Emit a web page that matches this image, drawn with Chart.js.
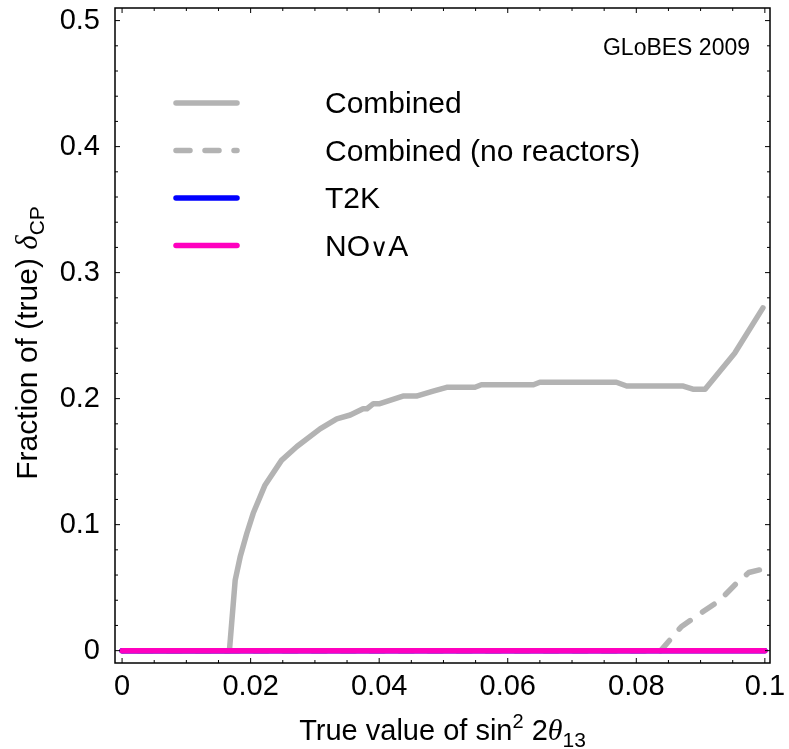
<!DOCTYPE html>
<html>
<head>
<meta charset="utf-8">
<script src="https://cdn.jsdelivr.net/npm/chart.js@4/dist/chart.umd.min.js"></script>
<style>
  body { margin: 0; background: #fff; }
  canvas { display: block; }
</style>
</head>
<body>
<canvas id="fractionChart" width="789" height="749"></canvas>
<script>
const xCombined = [0, 0.0167, 0.0176, 0.0184, 0.0194, 0.0204, 0.0222, 0.0248, 0.0272, 0.0308, 0.0334, 0.0355, 0.0375, 0.0381, 0.0391, 0.0401, 0.0437, 0.0458, 0.0484, 0.0505, 0.0549, 0.0559, 0.0640, 0.0650, 0.0769, 0.0785, 0.0873, 0.0888, 0.0907, 0.0953, 0.0997];
const yCombined = [0, 0, 0.056, 0.075, 0.093, 0.109, 0.131, 0.151, 0.162, 0.176, 0.184, 0.187, 0.192, 0.192, 0.196, 0.196, 0.202, 0.202, 0.206, 0.209, 0.209, 0.211, 0.211, 0.213, 0.213, 0.210, 0.210, 0.2075, 0.2075, 0.236, 0.272];

const xNoReactors = [0, 0.0838, 0.0870, 0.0904, 0.0930, 0.0955, 0.0975, 0.0999];
const yNoReactors = [0, 0, 0.019, 0.031, 0.040, 0.053, 0.062, 0.065];

const xT2K = [0, 0.1];
const yT2K = [0, 0];
const xNOvA = [0, 0.1];
const yNOvA = [0, 0];

const seriesNames = ['Combined', 'Combined (no reactors)', 'T2K', 'NO\u2228A'];

const xTickValues = [0, 0.02, 0.04, 0.06, 0.08, 0.1];
const xTickLabels = ['0', '0.02', '0.04', '0.06', '0.08', '0.1'];
const yTickValues = [0, 0.1, 0.2, 0.3, 0.4, 0.5];
const yTickLabels = ['0', '0.1', '0.2', '0.3', '0.4', '0.5'];

const FONT = "'Liberation Sans', Arial, Helvetica, sans-serif";
const SERIF = "'Liberation Serif', 'Times New Roman', serif";

function toPoints(xs, ys) {
  return xs.map((x, i) => ({ x: x, y: ys[i] }));
}

// draw a line of text made of pieces (sub/superscripts, italics)
function drawRich(ctx, parts, x0, baseline, centered) {
  let total = 0;
  parts.forEach(p => { ctx.font = p.font; total += ctx.measureText(p.text).width; });
  let x = centered ? x0 - total / 2 : x0;
  ctx.textAlign = 'left';
  ctx.textBaseline = 'alphabetic';
  parts.forEach(p => {
    ctx.font = p.font;
    ctx.fillText(p.text, x, baseline + (p.dy || 0));
    x += ctx.measureText(p.text).width;
  });
}

const framePlugin = {
  id: 'frame',
  afterDatasetsDraw(chart) {
    const { ctx, chartArea: a, scales } = chart;
    const xs = scales.x, ys = scales.y;
    ctx.save();
    ctx.strokeStyle = '#000';
    ctx.lineWidth = 1.5;
    ctx.strokeRect(a.left, a.top, a.right - a.left, a.bottom - a.top);

    ctx.lineWidth = 1;
    ctx.beginPath();
    for (let i = 0; i <= 20; i++) {
      const px = xs.getPixelForValue(i * 0.005);
      const len = i % 4 === 0 ? 5 : 3;
      ctx.moveTo(px, a.bottom); ctx.lineTo(px, a.bottom - len);
      ctx.moveTo(px, a.top); ctx.lineTo(px, a.top + len);
    }
    for (let i = 0; i <= 25; i++) {
      const py = ys.getPixelForValue(i * 0.02);
      const len = i % 5 === 0 ? 5 : 3;
      ctx.moveTo(a.left, py); ctx.lineTo(a.left + len, py);
      ctx.moveTo(a.right, py); ctx.lineTo(a.right - len, py);
    }
    ctx.stroke();
    ctx.restore();
  },
  afterDraw(chart) {
    const { ctx, chartArea: a } = chart;
    ctx.save();
    ctx.fillStyle = '#000';

    // x axis title
    drawRich(ctx, [
      { text: 'True value of sin', font: '29px ' + FONT },
      { text: '2', font: '20px ' + FONT, dy: -12 },
      { text: ' 2', font: '29px ' + FONT },
      { text: '\u03B8', font: 'italic 30px ' + SERIF },
      { text: '13', font: '21px ' + FONT, dy: 7 }
    ], (a.left + a.right) / 2, 740, true);

    // y axis title
    ctx.translate(37, 343);
    ctx.rotate(-Math.PI / 2);
    drawRich(ctx, [
      { text: 'Fraction of (true) ', font: '30px ' + FONT },
      { text: '\u03B4', font: 'italic 31px ' + SERIF },
      { text: 'CP', font: '21px ' + FONT, dy: 7 }
    ], 0, 0, true);
    ctx.restore();

    // stamp
    ctx.save();
    ctx.fillStyle = '#000';
    ctx.font = '23px ' + FONT;
    ctx.textAlign = 'right';
    ctx.textBaseline = 'alphabetic';
    ctx.fillText('GLoBES 2009', 750, 55);
    ctx.restore();

    // legend
    ctx.save();
    const rows = [103, 150.5, 198, 245.5];
    chart.data.datasets.forEach((ds, i) => {
      const y = rows[i];
      ctx.strokeStyle = ds.borderColor;
      ctx.lineWidth = 5.5;
      ctx.lineCap = 'round';
      ctx.setLineDash(ds.borderDash || []);
      ctx.beginPath();
      ctx.moveTo(176, y);
      ctx.lineTo(237, y);
      ctx.stroke();
      ctx.setLineDash([]);
      ctx.fillStyle = '#000';
      // the "or" sign is set small, as in the original
      const parts = ds.label.split(/(\u2228)/).filter(s => s).map(s =>
        s === '\u2228'
          ? { text: s, font: '25px ' + "'DejaVu Sans', sans-serif" }
          : { text: s, font: '30px ' + FONT });
      drawRich(ctx, parts, 325, y + 10, false);
    });
    ctx.restore();
  }
};

const ctx = document.getElementById('fractionChart').getContext('2d');

const lineStyle = {
  showLine: true,
  pointRadius: 0,
  borderWidth: 5.5,
  borderCapStyle: 'round',
  borderJoinStyle: 'round',
  tension: 0
};

new Chart(ctx, {
  type: 'scatter',
  data: {
    datasets: [
      { ...lineStyle, label: seriesNames[0], data: toPoints(xCombined, yCombined), borderColor: '#b3b3b3', order: 4 },
      { ...lineStyle, label: seriesNames[1], data: toPoints(xNoReactors, yNoReactors), borderColor: '#b3b3b3', borderDash: [14, 15], borderDashOffset: 13, order: 3 },
      { ...lineStyle, label: seriesNames[2], data: toPoints(xT2K, yT2K), borderColor: '#0000ff', order: 2 },
      { ...lineStyle, label: seriesNames[3], data: toPoints(xNOvA, yNOvA), borderColor: '#ff00bf', order: 1 }
    ]
  },
  options: {
    responsive: false,
    animation: false,
    layout: { padding: { top: 8, right: 19, left: 0, bottom: 0 } },
    plugins: {
      legend: { display: false },
      tooltip: { enabled: false }
    },
    scales: {
      x: {
        type: 'linear',
        min: -0.0011,
        max: 0.1008,
        grid: { display: false, drawTicks: false },
        border: { display: false },
        afterBuildTicks: scale => { scale.ticks = xTickValues.map(v => ({ value: v })); },
        afterFit: scale => {
          scale.height = 86;
          scale.paddingLeft = 0;
          scale.paddingRight = 0;
        },
        ticks: {
          padding: 7,
          color: '#000',
          maxRotation: 0,
          font: { family: FONT, size: 29 },
          callback: (value) => xTickLabels[xTickValues.findIndex(v => Math.abs(v - value) < 1e-9)]
        }
      },
      y: {
        type: 'linear',
        min: -0.0098,
        max: 0.510,
        grid: { display: false, drawTicks: false },
        border: { display: false },
        afterBuildTicks: scale => { scale.ticks = yTickValues.map(v => ({ value: v })); },
        afterFit: scale => {
          scale.width = 115;
          scale.paddingTop = 0;
          scale.paddingBottom = 0;
        },
        ticks: {
          padding: 15,
          color: '#000',
          font: { family: FONT, size: 29 },
          callback: (value) => yTickLabels[yTickValues.findIndex(v => Math.abs(v - value) < 1e-9)]
        }
      }
    }
  },
  plugins: [framePlugin]
});
</script>
</body>
</html>
